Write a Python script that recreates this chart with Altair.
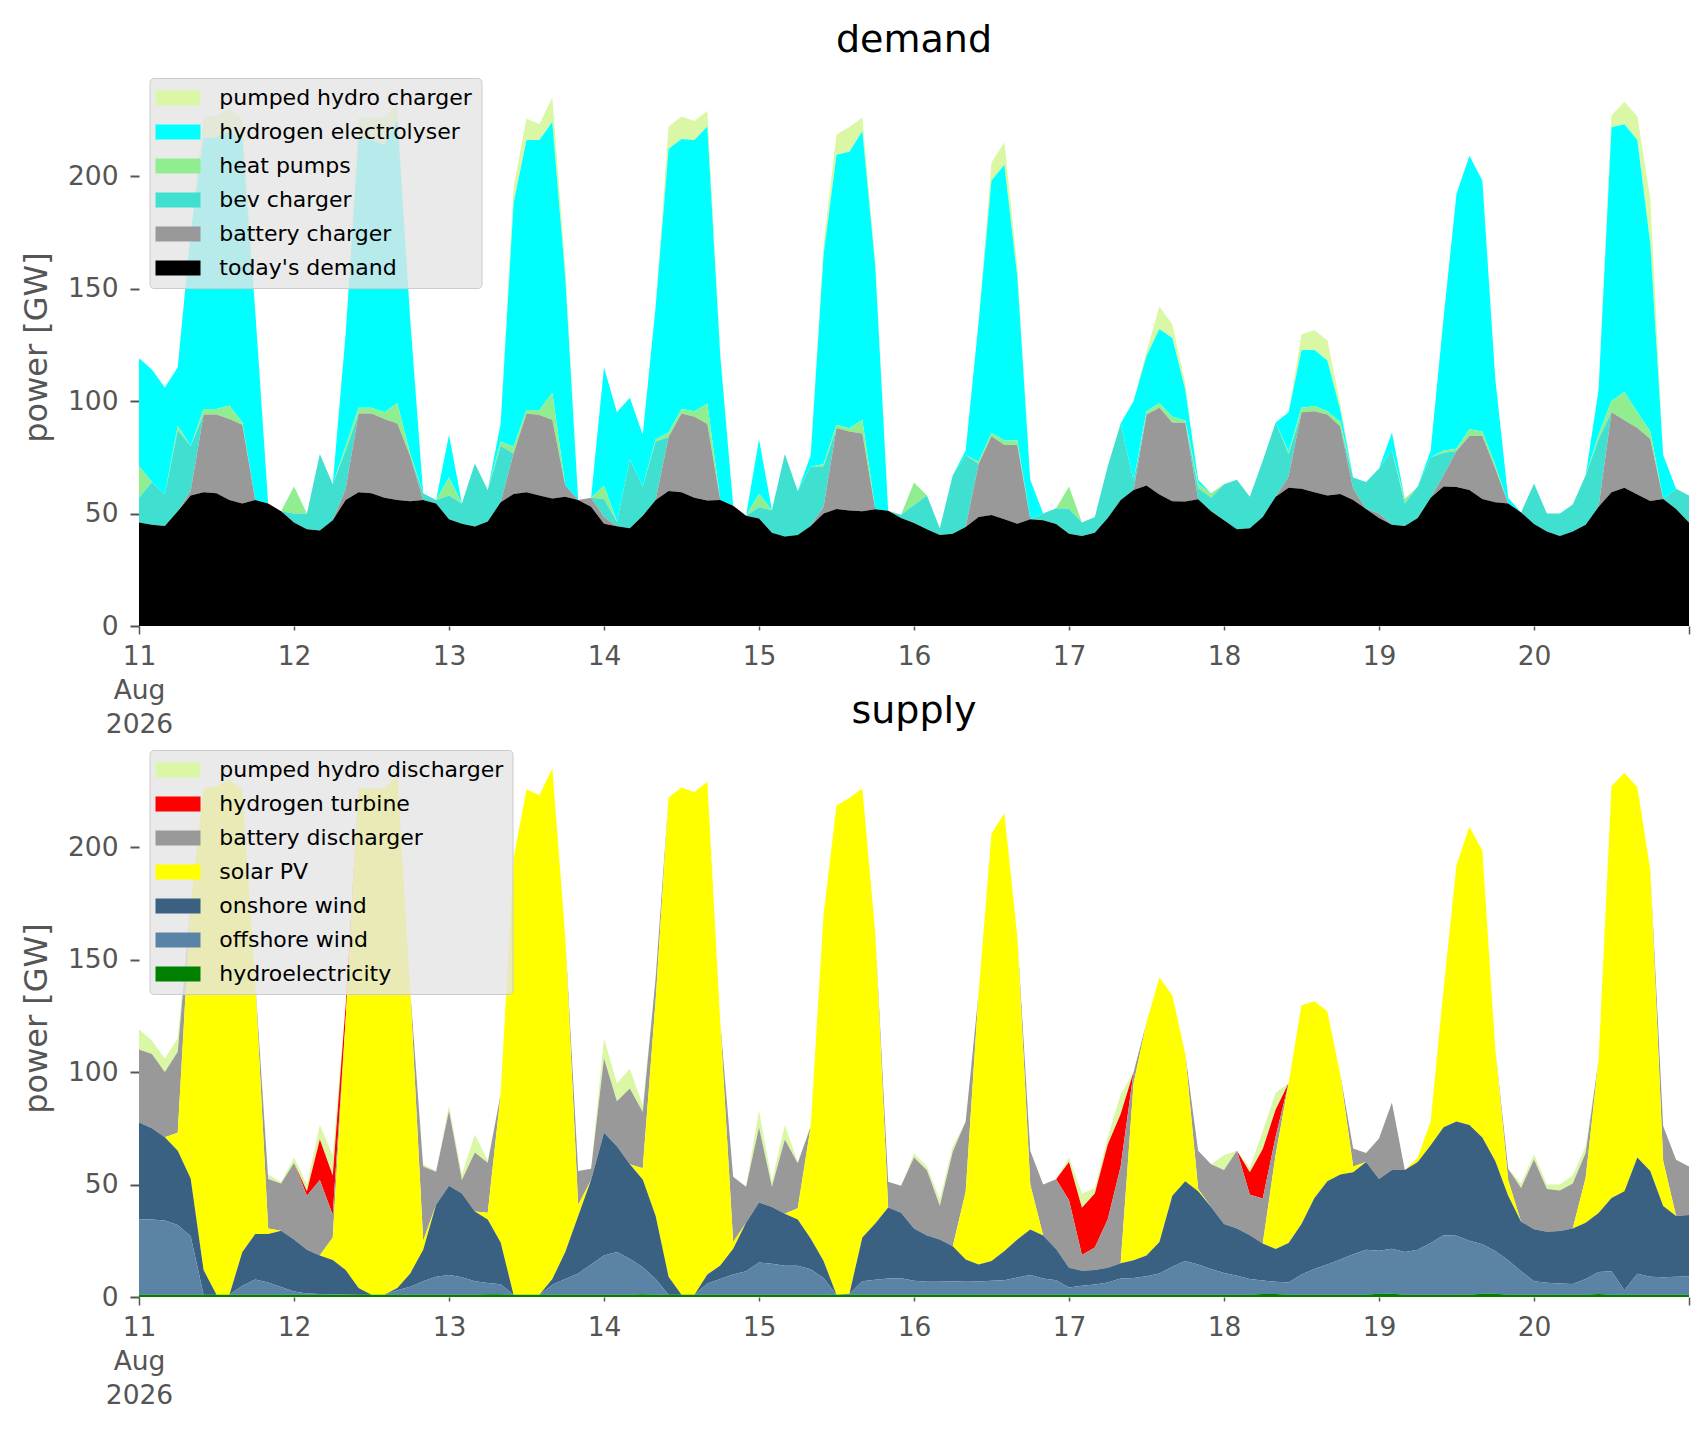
import altair as alt
import pandas as pd

# time axis: hours since 11 Aug 2026 00:00, every 2 hours
hours = list(range(0, 241, 2))

# ---------------- demand series [GW] ----------------
todays_demand = [
    46, 45, 44.5, 51, 58, 59.5, 59, 56, 54.5, 56, 54.5, 51,
    46, 43, 42.5, 47, 56, 59.5, 59, 57, 56, 55.5, 56, 54.5,
    47.5, 45.5, 44.2, 46.5, 55, 58.7, 59.5, 58, 56.7, 57.5, 56, 53,
    45.5, 44.3, 43.5, 49, 56, 60, 59.5, 57, 55.8, 56, 53.5, 49,
    47.8, 41.5, 39.8, 40.5, 44.5, 50, 52, 51.3, 51, 51.9, 51.2, 48,
    45.8, 43, 40.5, 41, 44, 48.5, 49.3, 47.5, 45.5, 47.5, 47, 45.3,
    41, 40, 41.5, 48, 56, 60.5, 62.4, 58.5, 55.5, 55.3, 56.3, 51,
    47, 43, 43.5, 48.5, 57.5, 61.5, 61, 59.5, 58, 58.7, 56, 52,
    48, 45, 44.5, 48, 57, 62, 61.8, 60.5, 56.5, 55, 54.5, 50.5,
    45.3, 42, 40, 42, 45, 53, 59.5, 61.4, 58.5, 55.6, 56.5, 52,
    46]
battery_charger = [
    0, 0, 0, 0, 2, 34.5, 35, 36, 35, 0, 0, 0,
    0, 0, 0, 0, 5, 35, 35.5, 35, 34, 20, 0, 0,
    0, 0, 0, 0, 0, 18, 35, 35.8, 35, 5, 0, 4,
    3, 0, 0, 0, 0, 24, 35, 36, 34, 0, 0, 0,
    0, 0, 0, 0, 0, 3, 36, 35.1, 34.6, 0, 0, 0,
    0, 0, 0, 0, 0, 23.5, 35, 33, 35, 0, 0, 0,
    0, 0, 0, 0, 0, 0, 31.6, 38.5, 35, 35, 0, 0,
    0, 0, 0, 0, 0, 5, 34, 36, 36, 30, 5, 0,
    2, 0, 0, 0, 0, 5, 16, 24, 28, 15, 0, 0,
    0, 0, 0, 0, 0, 0, 35.5, 30, 29.5, 27.5, 0, 0,
    0]
bev_charger = [
    11, 19, 14, 36, 20, 0, 0, 0, 0, 0, 0, 0,
    4, 7, 34, 16, 17, 0, 0, 0, 0, 0, 3, 1.5,
    10.5, 9, 28, 14, 25, 0, 0, 0, 0, 0, 0, 0,
    8, 2, 30.5, 13, 26, 0, 0, 0, 0, 0, 0, 0,
    5, 10, 36.7, 19.5, 26.3, 18, 0, 0, 0, 0, 0, 1.5,
    8, 15, 3, 26, 32, 0, 0, 0, 0, 0, 3, 7,
    11, 6, 7, 23, 34, 4, 0, 0, 0, 0, 5, 6,
    16, 22, 14, 25, 33, 10, 0, 0, 0, 0, 5, 12,
    20, 33, 10, 14, 18, 10, 0, 0, 0, 0, 0, 0,
    18, 8, 10, 12, 22, 30, 0, 0, 0, 0, 0, 9,
    12]
heat_pumps = [
    14, 0, 0, 2, 0, 2.5, 2.5, 6, 1, 0, 0, 0,
    12, 0, 0, 0, 2, 2.5, 2.5, 3, 9, 1, 0, 0,
    8, 0, 0, 0, 2, 3, 1.5, 2.2, 12, 0, 0, 0,
    6, 0, 0, 0, 1, 2, 2, 2.5, 9, 0, 0, 0,
    6, 0, 0, 0, 0, 1, 1.4, 1.5, 6, 0, 0, 0,
    10, 0, 0, 0, 0, 1, 1.5, 2, 2, 0, 0, 0,
    10, 0, 0, 0, 0, 0, 1.5, 2, 2.5, 1, 2, 2,
    0, 0, 0, 0, 0, 1, 2, 2.3, 1.5, 2, 0, 0,
    0, 0, 2, 0, 0, 1, 1, 3, 2, 1.5, 0, 0,
    0, 0, 0, 0, 0, 2, 5, 12.6, 7, 3.5, 0, 0,
    0]
hydrogen_electrolyser = [
    48, 50, 47.5, 26, 95, 120.5, 120.5, 122, 125.5, 84, 0, 0,
    0, 0, 0, 0, 50, 120, 119, 119, 126, 59.5, 0, 0,
    19, 0, 0, 0, 8, 108.3, 120, 120, 120.3, 92.5, 0, 0,
    52.5, 48.7, 27.5, 23, 59, 126, 120, 120.5, 123.2, 64, 0, 0,
    24.2, 0, 0, 0, 5, 93, 120.1, 122.9, 128.4, 108.1, 0, 0,
    0, 0, 0, 0, 2, 62, 112.2, 122.5, 72.5, 17.5, 0, 0,
    0, 0, 0, 0, 0, 35.5, 24.5, 33, 35, 13.7, 1.7, 0,
    0, 0, 0, 0, 0, 17.5, 25.7, 24.9, 22.5, 5.3, 0, 0,
    0, 8, 0, 0, 3, 59, 113.2, 121.5, 111.5, 38.5, 2.5, 0,
    0, 0, 0, 0, 0, 20, 121.7, 119, 121, 83.4, 19.5, 0,
    0]
pumped_hydro_charger = [
    0, 0, 0, 0, 0, 9, 10, 10, 9, 0, 0, 0,
    0, 0, 0, 0, 0, 9, 10, 12, 7, 0, 0, 0,
    0, 0, 0, 0, 0, 7, 9.6, 7, 11, 5, 0, 0,
    0, 0, 0, 0, 0, 10, 10, 8.5, 7, 2, 0, 0,
    0, 0, 0, 0, 0, 5, 9, 11, 6, 2, 0, 0,
    0, 0, 0, 0, 0, 0, 8, 10, 5, 0, 0, 0,
    0, 0, 0, 0, 0, 0, 2, 10, 6, 3, 0, 0,
    0, 0, 0, 0, 0, 0, 7, 8.8, 9, 3, 0, 0,
    0, 0, 0, 0, 0, 0, 0, 0, 0, 0, 0, 0,
    0, 0, 0, 0, 0, 0, 5.3, 10, 10.6, 20, 0, 0,
    0]

# ---------------- supply series [GW] ----------------
hydroelectricity = [
    1, 1, 1, 1, 1, 1, 1, 1, 1, 1, 1, 1,
    1, 1, 1, 1, 1, 1, 1, 1, 1, 1, 1, 1,
    1, 1, 1, 1.2, 1.2, 1, 1, 1, 1, 1, 1, 1,
    1, 1, 1, 1.2, 1, 1, 1, 1, 1, 1, 1, 1,
    1, 1, 1, 1, 1, 1, 1, 1, 1, 1, 1, 1,
    1, 1, 1, 1, 1, 1, 1, 1, 1, 1, 1, 1,
    1, 1, 1, 1, 1, 1, 1, 1, 1, 1, 1, 1,
    1, 1, 1, 1.3, 1.3, 1, 1, 1, 1, 1, 1, 1,
    1.4, 1.4, 1, 1, 1, 1, 1, 1, 1.4, 1.4, 1, 1,
    1, 1, 1, 1, 1, 1.3, 1, 1, 1, 1, 1, 1,
    1]
offshore_wind = [
    33.6, 33.4, 33, 31, 26, 0, 0, 0, 4, 6.8, 5.5, 3.5,
    1.5, 0.6, 0.3, 0.2, 0.1, 0, 0, 0, 2, 3.6, 6, 8,
    8.8, 7.8, 6, 5, 4.5, 0, 0, 0, 4.5, 7, 9.5, 13.5,
    17.5, 19, 16, 12, 7, 0, 0, 0, 5, 7, 9, 10.5,
    14.3, 13.8, 12.9, 12.9, 11.3, 7.5, 0, 0.5, 6, 6.7, 7.2, 7.3,
    6.2, 5.8, 5.8, 6, 5.8, 5.9, 6.2, 6.5, 7.7, 8.8, 7.2, 6.5,
    3.2, 4, 4.6, 5.5, 7.2, 7.5, 8.2, 9.5, 12.5, 15, 13.5, 11.5,
    9.7, 8.5, 7, 6, 5.5, 5.5, 9, 11.5, 13.5, 15.7, 18, 20,
    19.2, 20, 19, 20, 23, 26.4, 26.2, 24, 22, 19, 15.3, 10.5,
    6, 5.3, 5, 4.8, 7, 9.8, 10.5, 2, 9.3, 8, 7.8, 8,
    8.1]
onshore_wind = [
    43, 40.6, 37, 33, 25.7, 11, 0, 0, 15, 20.2, 21.5, 24.9,
    23.1, 19.4, 17.2, 15.3, 10.9, 3, 0, 0, 1, 5.9, 14, 32,
    39.7, 37.2, 31, 28.3, 18.5, 0, 0, 0, 2.5, 12, 25.5, 37.5,
    54.5, 47, 42, 39, 28, 8, 0, 0, 4, 6, 11.5, 21.5,
    26.7, 25.2, 23.1, 20.6, 13.7, 7.5, 0, 0, 19.5, 25, 31.6, 29.2,
    23.3, 20.5, 18.8, 15.6, 9.9, 7.6, 8.8, 13, 16.9, 20.2, 19.1, 13.8,
    8.8, 6.7, 6.4, 6.5, 6.8, 7.8, 9.3, 14, 31.5, 35.4, 32.5, 27.5,
    21.7, 21, 19.5, 16.5, 14.5, 17.5, 22.5, 31.5, 37, 37.8, 36.5, 39,
    31.9, 35, 36.5, 39, 43.5, 48.1, 50.8, 51.5, 47.5, 40, 28.7, 22,
    23.1, 22.7, 23.3, 24.7, 25, 26.2, 32.5, 44, 51.7, 47, 31.7, 27,
    27.4]
solar_pv = [
    0, 0, 0, 8, 122.3, 214, 226, 229, 205, 112, 2.5, 0,
    0, 0, 0, 10, 111.5, 222, 225, 225, 228, 125.5, 4, 0,
    0, 0, 0, 3, 66, 194, 224.6, 222, 227, 140, 5, 0,
    0, 0, 0, 5, 96, 213, 225.5, 223.5, 219, 108, 3, 0,
    0, 0, 0, 5, 49.8, 154, 217.5, 220.3, 199.5, 129.3, 0, 0,
    0, 0, 0, 0, 30, 120.5, 190, 194.5, 134.4, 20, 0, 0,
    0, 0, 0, 0, 0, 78.7, 103.5, 117.5, 89, 56.6, 1, 0,
    0, 0, 0, 0, 42, 71, 97.2, 87.5, 75.5, 44.5, 2.5, 0,
    0, 0, 0, 2, 10.5, 61.5, 114, 132.5, 127.5, 50, 7, 0,
    0, 0, 0, 0, 20, 68, 183, 186, 164.6, 134, 20, 0,
    0]
battery_discharger = [
    32.4, 33, 29, 36, 0, 0, 0, 0, 0, 0, 22, 21,
    34, 24, 33.5, 10, 0, 0, 0, 0, 0, 0, 33, 14.7,
    33.3, 6, 26.2, 22.2, 0, 0, 0, 0, 0, 0, 15, 5,
    33, 20, 33.7, 25, 10, 0, 0, 0, 0, 0, 29, 16,
    33.3, 9, 33, 20, 0, 0, 0, 0, 0, 0, 11.4, 12,
    31.5, 29, 15, 42, 31.3, 0, 0, 0, 0, 15, 22.7, 31,
    30, 7, 10, 21.6, 43, 5, 0, 0, 0, 0, 17, 19,
    24, 34.5, 18, 20, 8, 0, 0, 0, 0, 0, 8, 4,
    17.9, 30, 0, 0, 0, 0, 0, 0, 0, 0, 5, 15,
    31, 19, 18, 20, 11, 0, 0, 0, 0, 0, 15.5, 25,
    21.5]
hydrogen_turbine = [
    0, 0, 0, 0, 0, 0, 0, 0, 0, 0, 0, 0,
    0, 2, 18, 17.5, 6, 0, 0, 0, 0, 0, 0, 0,
    0, 0, 0, 0, 0, 0, 0, 0, 0, 0, 0, 0,
    0, 0, 0, 0, 0, 0, 0, 0, 0, 0, 0, 0,
    0, 0, 0, 0, 0, 0, 0, 0, 0, 0, 0, 0,
    0, 0, 0, 0, 0, 0, 0, 0, 0, 0, 0, 0,
    17, 21, 24, 33.2, 23.3, 0, 0, 0, 0, 0, 0, 0,
    0, 0, 10, 22, 12, 0, 0, 0, 0, 0, 0, 0,
    0, 0, 0, 0, 0, 0, 0, 0, 0, 0, 0, 0,
    0, 0, 0, 0, 0, 0, 0, 0, 0, 0, 0, 0,
    0]
pumped_hydro_discharger = [
    9, 6, 6, 6, 0, 0, 0, 0, 0, 0, 2, 0.6,
    2.4, 3, 6.5, 9, 0.5, 0, 0, 0, 0, 0, 1, 0.3,
    2.2, 2.5, 8, 1, 0, 0, 0, 0, 0, 0, 0, 0,
    9, 8, 8.8, 3, 0, 0, 0, 0, 0, 0, 0, 0,
    7.7, 2.5, 6.5, 0.5, 0, 0, 0, 0, 0, 0, 0, 0,
    1.8, 1.7, 2.9, 2.4, 0, 0, 0, 0, 0, 0, 0, 0,
    2, 6.3, 2.5, 3.2, 8.7, 0, 0, 0, 0, 0, 0, 0,
    6.6, 0, 2, 8, 7.5, 0, 0, 0, 0, 0, 0, 0,
    0, 0, 0, 0, 0, 0, 0, 0, 0, 0, 0, 2,
    2.2, 2, 2.7, 3.5, 3, 0, 0, 0, 0, 0, 0, 0,
    0]

# legend order = top of stack first
demand_names = ["pumped hydro charger", "hydrogen electrolyser", "heat pumps",
                "bev charger", "battery charger", "today's demand"]
demand_cols = [pumped_hydro_charger, hydrogen_electrolyser, heat_pumps,
               bev_charger, battery_charger, todays_demand]
demand_colors = ["#DAF7A6", "#00FFFF", "#90EE90", "#40E0D0", "#999999", "#000000"]

supply_names = ["pumped hydro discharger", "hydrogen turbine", "battery discharger",
                "solar PV", "onshore wind", "offshore wind", "hydroelectricity"]
supply_cols = [pumped_hydro_discharger, hydrogen_turbine, battery_discharger,
               solar_pv, onshore_wind, offshore_wind, hydroelectricity]
supply_colors = ["#DAF7A6", "#FF0000", "#999999", "#FFFF00", "#3B6182", "#5B83A6", "#008000"]


def to_long(names, cols):
    rows = []
    n = len(names)
    for i, (name, vals) in enumerate(zip(names, cols)):
        assert len(vals) == len(hours), (name, len(vals))
        for t, v in zip(hours, vals):
            rows.append({"t": t, "series": name, "value": v, "order": n - 1 - i})
    return pd.DataFrame(rows)


demand_df = to_long(demand_names, demand_cols)
supply_df = to_long(supply_names, supply_cols)

GREY = "#555555"
MAJOR = "datum.value == 0 || datum.value == 240"

x_axis = alt.Axis(
    values=list(range(0, 241, 24)),
    labelExpr="datum.value == 0 ? ['11', 'Aug', '2026'] : (datum.value >= 240 ? '' : '' + (11 + datum.value / 24))",
    title=None, grid=False, domain=False,
    tickSize=alt.condition(MAJOR, alt.value(8), alt.value(4)),
    labelPadding=alt.condition(MAJOR, alt.value(9), alt.value(13)),
    tickWidth=1.5, tickColor=GREY,
    labelFontSize=26.5, labelColor=GREY, labelLineHeight=34,
    labelAngle=0, labelAlign="center", labelBaseline="top",
    labelFlush=False, labelOverlap=False,
)
y_axis = alt.Axis(
    values=[0, 50, 100, 150, 200], title="power [GW]", grid=False, domain=False,
    tickSize=9, tickWidth=2, tickColor=GREY,
    labelPadding=12, labelFontSize=26.5, labelColor=GREY,
    titleFontSize=32, titleColor=GREY, titleFontWeight="normal", titlePadding=14,
)


def panel(df, names, colors, title, legend_y):
    return alt.Chart(df).mark_area(interpolate="linear", strokeWidth=0, opacity=1).encode(
        x=alt.X("t:Q", scale=alt.Scale(domain=[0, 240], nice=False, zero=False), axis=x_axis),
        y=alt.Y("value:Q", stack="zero", scale=alt.Scale(domain=[0, 248], nice=False), axis=y_axis),
        color=alt.Color("series:N", scale=alt.Scale(domain=names, range=colors),
                        legend=alt.Legend(orient="none", legendX=10.5, legendY=legend_y, title=None)),
        order=alt.Order("order:Q", sort="ascending"),
    ).properties(width=1550, height=558, title=title)


top = panel(demand_df, demand_names, demand_colors, "demand", 10)
bottom = panel(supply_df, supply_names, supply_colors, "supply", 11)

chart = alt.vconcat(top, bottom, spacing=113, bounds="flush").resolve_scale(
    color="independent"
).properties(
    padding={"left": 12, "top": 14, "right": 5, "bottom": 4}
).configure(
    font="DejaVu Sans"
).configure_view(
    strokeWidth=0
).configure_title(
    fontSize=38, fontWeight="normal", color="black", anchor="middle",
    baseline="bottom", offset=8, font="DejaVu Sans"
).configure_legend(
    fillColor="rgba(229,229,229,0.8)", strokeColor="#cccccc", strokeWidth=1,
    cornerRadius=4, padding=9, rowPadding=12,
    labelFontSize=22, labelColor="black", labelOffset=30.3, labelLimit=1000,
    symbolType="M-3,-1L3,-1L3,1L-3,1Z", symbolSize=225, symbolOffset=8.5,
    symbolStrokeWidth=0, symbolOpacity=1,
)

chart.save("out.html", embed_options={"renderer": "svg", "actions": False})
